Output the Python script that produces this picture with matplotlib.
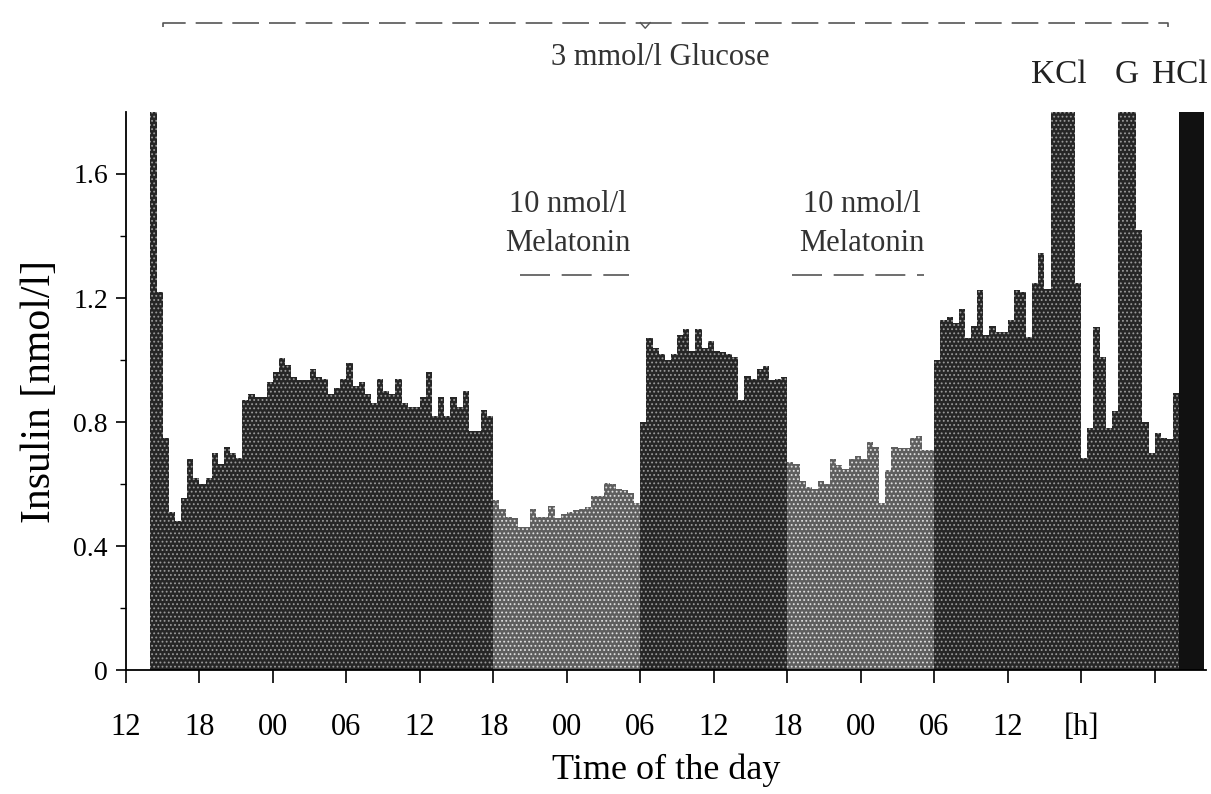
# insulin secretion, perifused islets, 30 min fractions
# bars

import numpy as np
import matplotlib.pyplot as plt

plt.rcParams['font.family'] = ['Liberation Serif', 'DejaVu Serif']
plt.rcParams['hatch.linewidth'] = 0.8

# insulin [nmol/l] per 30 min fraction, start at 14:00 on day 1
day1 = [1.80, 1.22, 0.75, 0.51, 0.48, 0.555, 0.68, 0.62, 0.60, 0.62,
        0.70, 0.665, 0.72, 0.70, 0.685, 0.87, 0.89, 0.88, 0.88, 0.93,
        0.96, 1.005, 0.985, 0.945, 0.935, 0.935, 0.97, 0.945, 0.94, 0.89,
        0.91, 0.94, 0.99, 0.915, 0.93, 0.89, 0.86, 0.94, 0.90, 0.89,
        0.94, 0.86, 0.85, 0.85, 0.88, 0.96, 0.82, 0.88, 0.82, 0.88,
        0.85, 0.90, 0.77, 0.77, 0.84, 0.82]
mel1 = [0.55, 0.52, 0.495, 0.49, 0.46, 0.46, 0.52, 0.495, 0.495, 0.53,
        0.49, 0.505, 0.51, 0.515, 0.52, 0.525, 0.56, 0.56, 0.605, 0.60,
        0.585, 0.58, 0.57, 0.54]
day2 = [0.80, 1.07, 1.04, 1.02, 1.00, 1.02, 1.08, 1.10, 1.03, 1.10,
        1.04, 1.06, 1.03, 1.025, 1.02, 1.01, 0.87, 0.95, 0.94, 0.97,
        0.98, 0.935, 0.94, 0.945]
mel2 = [0.67, 0.665, 0.61, 0.59, 0.585, 0.61, 0.60, 0.68, 0.66, 0.65,
        0.68, 0.69, 0.68, 0.735, 0.72, 0.54, 0.645, 0.72, 0.715, 0.715,
        0.75, 0.755, 0.71, 0.71]
day3 = [1.00, 1.13, 1.14, 1.12, 1.165, 1.07, 1.11, 1.225, 1.08, 1.11,
        1.09, 1.09, 1.13, 1.225, 1.22, 1.075, 1.25, 1.345, 1.23]
kcl = [1.80, 1.80, 1.80, 1.80]
after_kcl = [1.25, 0.685, 0.78, 1.105, 1.01, 0.78, 0.835]
gluc = [1.80, 1.80, 1.80]
after_g = [1.42, 0.80, 0.70, 0.765, 0.75, 0.745, 0.895]
hcl = [1.80, 1.80, 1.80, 1.80]

t_start = 2.0   # hours after 12:00 day 1
dt = 0.5

xticks = np.arange(0, 85, 6)
xticklabels = ['12', '18', '00', '06', '12', '18', '00', '06', '12',
               '18', '00', '06', '12', '[h]', '']
yticks = [0, 0.4, 0.8, 1.2, 1.6]
yticklabels = ['0', '0.4', '0.8', '1.2', '1.6']

dark = dict(color='#262626', edgecolor='#9a9a9a', hatch='....', linewidth=0)
light = dict(color='#5e5e5e', edgecolor='#e0e0e0', hatch='....', linewidth=0)
black = dict(color='#111111', linewidth=0)

segments = [(day1, dark), (mel1, light), (day2, dark), (mel2, light),
            (day3 + kcl + after_kcl + gluc + after_g, dark), (hcl, black)]

fig = plt.figure(figsize=(12.11, 7.94), dpi=100)
ax = fig.add_axes([0.104, 0.156, 0.892, 0.703])

t0 = t_start
for vals, style in segments:
    t = t0 + dt * np.arange(len(vals)) + dt / 2
    ax.bar(t, vals, width=dt, **style)
    t0 += dt * len(vals)

ax.set_xlim(0, 88.2)
ax.set_ylim(0, 1.8)
for s in ['top', 'right']:
    ax.spines[s].set_visible(False)
ax.spines['left'].set_linewidth(1.3)
ax.spines['bottom'].set_linewidth(1.3)

ax.set_xticks(xticks)
ax.set_xticklabels(xticklabels, fontsize=22)
ax.set_yticks(yticks)
ax.set_yticklabels(yticklabels, fontsize=20)
ax.set_yticks(np.arange(0.2, 1.8, 0.4), minor=True)
ax.tick_params(axis='x', length=9, width=1.2, pad=22)
ax.tick_params(axis='y', length=7, width=1.2, pad=6)
ax.tick_params(axis='y', which='minor', length=4, width=1.0)

ax.set_xlabel('Time of the day', fontsize=26, labelpad=8)
ax.set_ylabel('Insulin [nmol/l]', fontsize=30, labelpad=10)

# top brace: glucose over the whole run
tr = ax.get_xaxis_transform()
yb = 1.16
ax.plot([3.0, 3.0, 42.4], [yb - 0.008, yb, yb], transform=tr, color='#555555',
        lw=1.2, dashes=(16, 6), clip_on=False)
ax.plot([42.4, 85.1, 85.1], [yb, yb, yb - 0.008], transform=tr, color='#555555',
        lw=1.2, dashes=(16, 6), clip_on=False)
ax.plot([42.0, 42.4, 42.8], [yb, yb - 0.01, yb], transform=tr, color='#555555',
        lw=1.0, clip_on=False)
ax.text(43.6, 1.097, '3 mmol/l Glucose', transform=tr, ha='center', va='center',
        fontsize=22, color='#333333')

# stimuli at the end
for tx, lab, ha in [(76.2, 'KCl', 'center'), (81.7, 'G', 'center'),
                    (88.35, 'HCl', 'right')]:
    ax.text(tx, 1.066, lab, transform=tr, ha=ha, va='center',
            fontsize=24, color='#222222', clip_on=False)

# melatonin periods
for xc, x1, x2 in [(36.1, 32.2, 41.1), (60.1, 54.4, 65.2)]:
    ax.text(xc, 1.50, '10 nmol/l', ha='center', va='center', fontsize=22,
            color='#333333')
    ax.text(xc, 1.377, 'Melatonin', ha='center', va='center', fontsize=22,
            color='#333333')
    ax.plot([x1, x2], [1.274, 1.274], color='#555555', lw=1.2, dashes=(18, 7))

fig.savefig('out.png', dpi=100)
